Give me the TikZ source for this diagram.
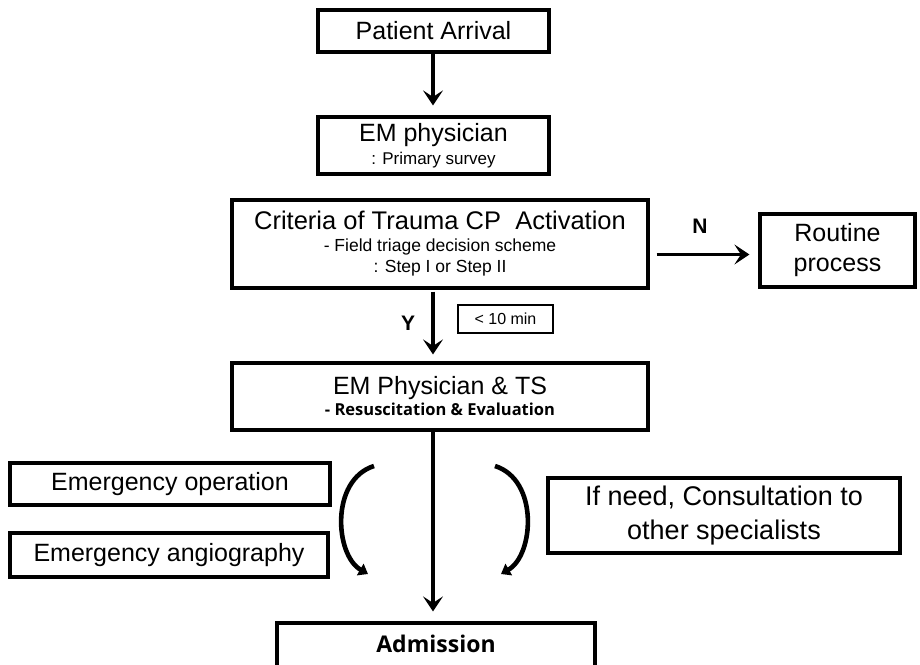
\documentclass[tikz,border=0pt]{standalone}
\usepackage{fontspec}
\setmainfont{Liberation Sans}
\newfontfamily\osans{Open Sans}
\usetikzlibrary{arrows.meta}
\begin{document}
\begin{tikzpicture}[x=1pt,y=-1pt,
  box/.style={draw, line width=3.2pt, align=center, inner sep=0pt, anchor=center},
  arr/.style={line width=3.2pt, arrows={-Stealth[length=15pt,width=20pt,inset=6.5pt]}},
  brk/.style={line width=4.6pt, arrows={-Triangle[length=9pt,width=13pt]}}]
\useasboundingbox (0,0) rectangle (920,664);
\node[box, minimum width=231, minimum height=42, font=\fontsize{25}{28}\selectfont] (arrival) at (433.5,31)
  {Patient Arrival};
\node[box, minimum width=231, minimum height=57, font=\fontsize{25}{22}\selectfont] (emp) at (433.5,145.5)
  {EM physician\\[1pt]\fontsize{17}{20}\selectfont : Primary survey};
\node[box, minimum width=416, minimum height=88, font=\fontsize{25.5}{24}\selectfont] (crit) at (440,244)
  {Criteria of Trauma CP\ \ Activation\\[-2pt]
   \fontsize{17.5}{21}\selectfont - Field triage decision scheme\\[-3pt]
   \fontsize{17.5}{21}\selectfont : Step I or Step II};
\node[box, minimum width=155, minimum height=73, font=\fontsize{25}{30}\selectfont] (routine) at (837.5,250.5)
  {Routine\\process};
\node[box, line width=2.4pt, minimum width=95, minimum height=28, font=\fontsize{16}{18}\selectfont] (tenmin) at (505.5,319)
  {< 10 min};
\node[box, minimum width=416, minimum height=67, font=\fontsize{25}{24}\selectfont] (emts) at (440,396.5)
  {EM Physician \& TS\\[-3pt]
   \osans\bfseries\fontsize{16.5}{20}\selectfont - Resuscitation \&\ Evaluation};
\node[box, minimum width=320, minimum height=42, font=\fontsize{25}{28}\selectfont] (eop) at (170,484)
  {Emergency operation};
\node[box, minimum width=318, minimum height=44, font=\fontsize{25}{28}\selectfont] (eang) at (169,555)
  {Emergency angiography};
\node[box, minimum width=352, minimum height=75, font=\fontsize{27}{34}\selectfont] (ifneed) at (724,515.5)
  {If need, Consultation to\\other specialists};
\node[box, minimum width=318, minimum height=50] (adm) at (436,648)
  {};
\node[font=\osans\bfseries\fontsize{23}{26}\selectfont] (admtxt) at (436,644) {Admission};
\node[font=\bfseries\fontsize{21}{23}\selectfont] (ylab) at (408,323) {Y};
\node[font=\bfseries\fontsize{21}{23}\selectfont] (nlab) at (700,226) {N};
\coordinate (c1) at (433,52);
\draw[arr, shorten >=10pt] (arrival.south -| c1) -- (emp.north -| c1);
\coordinate (c2) at (433,288);
\draw[arr, shorten >=7pt, shorten <=2pt] (crit.south -| c2) -- (emts.north -| c2);
\draw[arr, shorten >=9pt, shorten <=7pt] (crit.east |- routine.center) ++(0,4) coordinate (n1) (n1) -- (routine.west |- n1);
\coordinate (c3) at (433,430);
\draw[arr, shorten >=10pt] (emts.south -| c3) -- (adm.north -| c3);
\coordinate (lb1) at (374,466);
\coordinate (lb2) at (368,574);
\coordinate (rb1) at (495,466);
\coordinate (rb2) at (501,574);
\draw[brk] (lb1) .. controls (330,480) and (335,555) .. (lb2);
\draw[brk] (rb1) .. controls (539,480) and (534,555) .. (rb2);
\end{tikzpicture}
\end{document}
